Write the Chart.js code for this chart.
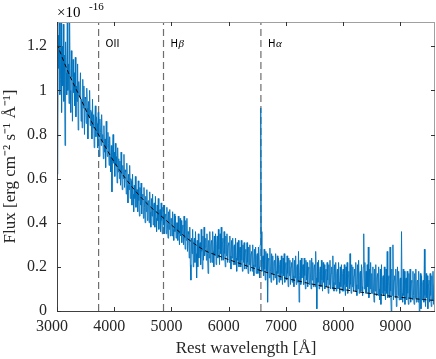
<!DOCTYPE html>
<html><head><meta charset="utf-8">
<script src="https://cdn.jsdelivr.net/npm/chart.js@4/dist/chart.umd.min.js"></script>
<style>html,body{margin:0;padding:0;background:#fff}#c{display:block}</style>
</head><body>
<canvas id="c" width="436" height="359"></canvas>
<script>
// Spectrum sampled every 10 Å from 3000 Å (units of 1e-16 erg cm^-2 s^-1 Å^-1); one row = 100 Å
const waveStart = 3000;
const waveStep = 10;
const flux = [
1.36,0.62,1.25,1.10,1.38,0.98,1.05,1.31,0.90,1.20,
1.02,1.30,0.95,1.16,0.75,1.22,1.08,0.98,1.33,1.00,
1.12,0.94,1.32,1.00,0.90,1.18,1.06,0.86,1.14,0.99,
1.08,0.93,1.15,0.88,1.02,0.95,1.12,0.82,1.04,0.97,
0.99,1.08,0.86,0.96,0.83,1.05,0.92,1.02,0.80,0.97,
0.96,0.85,1.01,0.92,0.78,0.95,0.88,1.00,0.84,0.91,
0.90,0.78,0.96,0.83,0.89,0.74,0.86,0.93,0.79,0.88,
0.85,0.74,0.90,0.79,0.70,0.87,0.81,0.75,0.89,0.77,
0.80,0.69,0.84,0.72,0.78,0.65,0.86,0.74,0.70,0.81,
0.76,0.66,0.79,0.70,0.63,0.75,0.54,0.72,0.80,0.67,
0.72,0.61,0.76,0.66,0.70,0.58,0.74,0.63,0.69,0.60,
0.68,0.57,0.72,0.62,0.55,0.66,0.60,0.71,0.56,0.64,
0.63,0.53,0.67,0.57,0.49,0.62,0.55,0.66,0.51,0.60,
0.59,0.48,0.62,0.53,0.45,0.57,0.51,0.61,0.47,0.55,
0.55,0.45,0.59,0.50,0.43,0.56,0.48,0.58,0.44,0.52,
0.53,0.42,0.56,0.47,0.40,0.52,0.45,0.55,0.41,0.50,
0.50,0.40,0.54,0.45,0.38,0.51,0.43,0.53,0.39,0.48,
0.49,0.38,0.52,0.42,0.36,0.48,0.41,0.51,0.37,0.45,
0.46,0.36,0.49,0.41,0.35,0.47,0.39,0.48,0.35,0.43,
0.44,0.35,0.47,0.39,0.33,0.45,0.37,0.46,0.34,0.42,
0.42,0.34,0.45,0.37,0.32,0.44,0.36,0.43,0.33,0.40,
0.40,0.32,0.43,0.35,0.30,0.42,0.34,0.41,0.31,0.38,
0.39,0.30,0.43,0.33,0.28,0.41,0.32,0.42,0.27,0.36,
0.35,0.24,0.38,0.21,0.14,0.33,0.26,0.37,0.20,0.31,
0.33,0.22,0.36,0.26,0.15,0.32,0.20,0.35,0.24,0.30,
0.31,0.21,0.37,0.27,0.19,0.34,0.23,0.38,0.25,0.29,
0.33,0.23,0.35,0.26,0.17,0.32,0.24,0.36,0.22,0.30,
0.32,0.22,0.36,0.27,0.20,0.34,0.25,0.35,0.21,0.30,
0.34,0.24,0.37,0.28,0.21,0.35,0.26,0.38,0.23,0.31,
0.33,0.23,0.36,0.26,0.20,0.34,0.25,0.35,0.22,0.30,
0.31,0.22,0.34,0.25,0.19,0.32,0.24,0.33,0.21,0.29,
0.30,0.21,0.33,0.24,0.18,0.31,0.23,0.32,0.20,0.28,
0.29,0.20,0.32,0.23,0.18,0.30,0.22,0.31,0.19,0.27,
0.28,0.19,0.31,0.22,0.17,0.29,0.21,0.30,0.18,0.26,
0.27,0.18,0.30,0.21,0.16,0.28,0.20,0.29,0.17,0.25,
0.26,0.17,0.29,0.20,0.15,0.30,0.92,0.36,0.18,0.24,
0.25,0.16,0.28,0.19,0.14,0.27,0.18,0.26,0.04,0.23,
0.24,0.15,0.285,0.18,0.13,0.26,0.17,0.25,0.14,0.22,
0.23,0.15,0.26,0.18,0.12,0.25,0.17,0.24,0.13,0.21,
0.23,0.14,0.25,0.17,0.12,0.24,0.16,0.26,0.13,0.21,
0.22,0.14,0.25,0.17,0.11,0.24,0.16,0.23,0.12,0.20,
0.22,0.13,0.24,0.16,0.11,0.23,0.15,0.25,0.12,0.20,
0.21,0.13,0.27,0.04,0.16,0.23,0.12,0.24,0.15,0.20,
0.21,0.12,0.24,0.16,0.10,0.23,0.14,0.22,0.11,0.19,
0.20,0.12,0.23,0.15,0.10,0.24,0.14,0.22,0.11,0.19,
0.21,0.11,0.27,0.15,0.01,0.22,0.13,0.23,0.10,0.18,
0.20,0.11,0.23,0.14,0.09,0.22,0.13,0.21,0.10,0.18,
0.19,0.11,0.22,0.14,0.08,0.21,0.12,0.23,0.10,0.17,
0.20,0.10,0.25,0.13,0.09,0.21,0.12,0.22,0.09,0.17,
0.19,0.10,0.22,0.13,0.08,0.20,0.11,0.21,0.09,0.17,
0.19,0.09,0.21,0.12,0.07,0.20,0.11,0.22,0.08,0.16,
0.18,0.10,0.26,0.12,0.08,0.21,0.11,0.20,0.09,0.16,
0.19,0.09,0.22,0.12,0.07,0.21,0.10,0.23,0.08,0.17,
0.18,0.09,0.21,0.11,0.07,0.20,0.35,0.10,0.22,0.08,
0.18,0.08,0.21,0.11,0.29,0.06,0.19,0.10,0.22,0.08,
0.17,0.08,0.20,0.10,0.04,0.19,0.09,0.21,0.07,0.15,
0.17,0.07,0.20,0.10,0.05,0.19,0.03,0.21,0.08,0.15,
0.16,0.07,0.20,0.09,0.05,0.19,0.08,0.27,0.06,0.15,
0.16,0.06,0.29,0.09,0.00,0.19,0.07,0.30,0.05,0.14,
0.16,0.06,0.19,0.02,0.10,0.20,0.07,0.18,0.05,0.14,
0.15,0.05,0.36,0.08,0.04,0.19,0.07,0.18,0.03,0.14,
0.15,0.05,0.18,0.08,0.03,0.17,0.06,0.19,0.04,0.13,
0.14,0.05,0.18,0.07,0.03,0.17,0.06,0.19,0.04,0.13,
0.14,0.04,0.18,0.00,0.07,0.17,0.01,0.16,0.05,0.13,
0.14,0.04,0.28,0.07,0.02,0.17,0.06,0.16,0.01,0.12,
0.14,0.04,0.17,0.07,0.02,0.16,0.05,0.18,0.03,0.12,
0.12
];
// Continuum fit (dashed)
const fitWave = [3000,3200,3400,3600,3800,4000,4200,4400,4600,4800,5000,5200,5400,5600,5800,6000,6200,6400,6600,6800,7000,7200,7400,7600,7800,8000,8200,8400,8600,8800,9000,9200,9400,9600];
const fitFlux = [1.21,1.08,0.97,0.86,0.765,0.675,0.60,0.535,0.48,0.435,0.39,0.345,0.305,0.272,0.252,0.233,0.215,0.197,0.18,0.165,0.148,0.137,0.125,0.115,0.105,0.097,0.09,0.082,0.075,0.068,0.062,0.057,0.052,0.048];
// Emission lines
const lineWaves = [3727, 4861, 6563];
const lineNames = ['OII', 'Hβ', 'Hα'];
// Axes
const xTicks = [3000,4000,5000,6000,7000,8000,9000];
const yTicks = [0,0.2,0.4,0.6,0.8,1,1.2];
const xMin = 3000, xMax = 9605, yMin = 0, yMax = 1.31;

const specPts = flux.map((f, i) => ({x: waveStart + i * waveStep, y: f}));
const fitPts = fitWave.map((w, i) => ({x: w, y: fitFlux[i]}));

const datasets = [
  {data: fitPts, borderColor: '#000', borderWidth: 1, borderDash: [4, 3], pointRadius: 0, cubicInterpolationMode: 'monotone', order: 0},
  {data: specPts, borderColor: '#0072BD', borderWidth: 0.9, pointRadius: 0, tension: 0, order: 1}
];
lineWaves.forEach(w => datasets.push({data: [{x: w, y: yMin}, {x: w, y: yMax}], borderColor: '#6e6e6e', borderWidth: 1.2, borderDash: [7, 4], pointRadius: 0, order: 2}));

const serif = '"Liberation Serif", "Times New Roman", serif';

const frame = {
  id: 'frame',
  afterDatasetsDraw(chart) {
    const {ctx, chartArea: a, scales: {x, y}} = chart;
    ctx.save();
    ctx.lineWidth = 1;
    ctx.strokeStyle = '#a0a0a0';
    ctx.beginPath();
    ctx.moveTo(a.left, a.top + 0.5); ctx.lineTo(a.right, a.top + 0.5);
    ctx.moveTo(a.right - 0.5, a.top); ctx.lineTo(a.right - 0.5, a.bottom);
    ctx.stroke();
    ctx.strokeStyle = '#404040';
    ctx.beginPath();
    ctx.moveTo(a.left + 0.5, a.top); ctx.lineTo(a.left + 0.5, a.bottom + 0.5);
    ctx.lineTo(a.right, a.bottom + 0.5);
    ctx.stroke();
    ctx.strokeStyle = '#333';
    ctx.beginPath();
    xTicks.forEach(v => {
      const px = Math.round(x.getPixelForValue(v)) + 0.5;
      ctx.moveTo(px, a.bottom); ctx.lineTo(px, a.bottom - 4);
      ctx.moveTo(px, a.top); ctx.lineTo(px, a.top + 4);
    });
    yTicks.forEach(v => {
      const py = Math.round(y.getPixelForValue(v)) + 0.5;
      ctx.moveTo(a.left, py); ctx.lineTo(a.left + 4, py);
      ctx.moveTo(a.right, py); ctx.lineTo(a.right - 4, py);
    });
    ctx.stroke();
    ctx.fillStyle = '#000';
    ctx.textBaseline = 'middle';
    ctx.textAlign = 'left';
    lineWaves.forEach((w, i) => {
      const px = x.getPixelForValue(w) + 7;
      const py = y.getPixelForValue(1.21);
      const name = lineNames[i];
      ctx.font = '10px "DejaVu Sans", sans-serif';
      if (name === 'OII') {
        ctx.fillText(name, px, py);
      } else {
        ctx.fillText('H', px, py);
        const wH = ctx.measureText('H').width;
        ctx.font = 'italic 11px ' + serif;
        ctx.fillText(name.slice(1), px + wH + 0.5, py);
      }
    });
    ctx.textBaseline = 'alphabetic';
    ctx.font = '15px ' + serif;
    ctx.fillText('×10', 57, 17);
    ctx.font = '11px ' + serif;
    ctx.fillText('-16', 89, 9.5);
    ctx.restore();
  }
};

new Chart(document.getElementById('c'), {
  type: 'line',
  data: {datasets},
  options: {
    responsive: false,
    animation: false,
    events: [],
    layout: {padding: {top: 22, right: 1, left: 0, bottom: 0}},
    plugins: {legend: {display: false}, tooltip: {enabled: false}},
    scales: {
      x: {
        type: 'linear', min: xMin, max: xMax,
        afterBuildTicks: s => { s.ticks = xTicks.map(v => ({value: v})); },
        afterFit: s => { s.height = 48; },
        grid: {display: false, drawTicks: false},
        border: {display: false},
        ticks: {color: '#262626', font: {family: serif, size: 16}, padding: 6, labelOffset: -5, maxRotation: 0, autoSkip: false, callback: v => String(v)},
        title: {display: true, text: 'Rest wavelength [Å]', color: '#262626', font: {family: serif, size: 17}, padding: {top: 0, bottom: 0}}
      },
      y: {
        type: 'linear', min: yMin, max: yMax,
        afterBuildTicks: s => { s.ticks = yTicks.map(v => ({value: v})); },
        afterFit: s => { s.width = 57; },
        grid: {display: false, drawTicks: false},
        border: {display: false},
        ticks: {color: '#262626', font: {family: serif, size: 16}, padding: 10, autoSkip: false, callback: v => String(v)},
        title: {display: true, text: 'Flux [erg cm⁻² s⁻¹ Å⁻¹]', color: '#262626', font: {family: serif, size: 17}, padding: {top: 0, bottom: 4}}
      }
    }
  },
  plugins: [frame]
});
</script>
</body></html>
